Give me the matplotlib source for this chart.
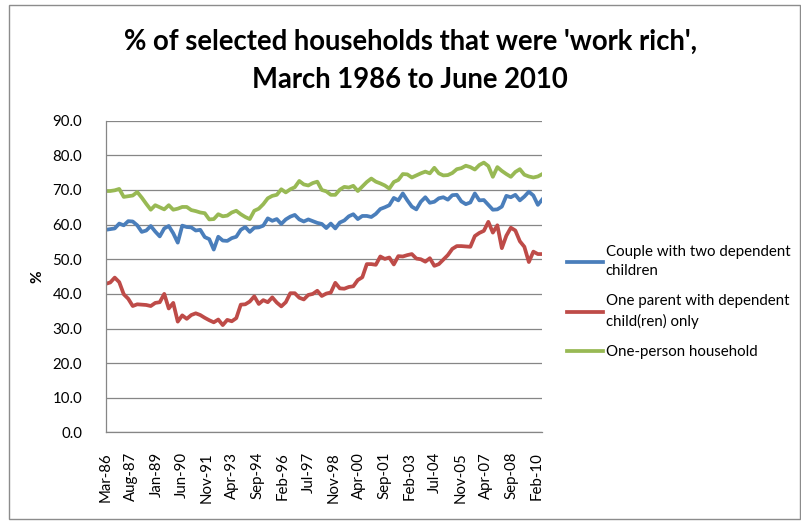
import matplotlib
matplotlib.use("Agg")
import matplotlib.pyplot as plt
from matplotlib.patches import Rectangle
import numpy as np
import pandas as pd

# quarterly readings, Mar-86 .. Jun-10 (% of households that were 'work rich')
couple_two_kids = [58.5, 58.7, 58.9, 60.3, 59.8, 61.0, 60.9, 59.8, 57.9, 58.3,
                   59.6, 58.0, 56.6, 58.9, 59.6, 57.5, 54.8, 59.7, 59.3, 59.2,
                   58.3, 58.5, 56.4, 55.8, 52.8, 56.5, 55.4, 55.3, 56.1, 56.5,
                   58.5, 59.3, 57.9, 59.1, 59.2, 59.7, 61.8, 61.1, 61.6, 60.2,
                   61.5, 62.3, 62.8, 61.5, 60.9, 61.5, 61.0, 60.5,
                   60.2, 59.0, 60.3, 58.9, 60.6, 61.2, 62.4, 63.0, 61.6, 62.5,
                   62.5, 62.2, 63.1, 64.5, 65.0, 65.6, 67.7, 67.0, 69.0, 67.0,
                   65.2, 64.4, 66.6, 67.9, 66.3, 66.6, 67.6, 67.9, 67.2, 68.5,
                   68.6, 66.7, 65.9, 66.4, 69.0, 67.0, 67.1, 65.7, 64.3, 64.4,
                   65.2, 68.3, 67.9, 68.6, 67.0, 68.1, 69.5, 68.4, 65.7, 67.3]

lone_parent = [42.9, 43.3, 44.7, 43.4, 39.9, 38.6, 36.5, 37.0, 36.9, 36.8,
               36.5, 37.4, 37.6, 40.0, 35.8, 37.4, 32.0, 33.8, 32.8, 33.9,
               34.4, 33.9, 33.1, 32.4, 31.8, 32.6, 31.0, 32.5, 32.1, 33.0,
               36.9, 37.0, 37.8, 39.3, 37.1, 38.2, 37.6, 39.0, 37.5, 36.4,
               37.6, 40.2, 40.2, 38.9, 38.4, 39.7, 40.0, 40.9,
               39.4, 40.1, 40.4, 43.2, 41.6, 41.5, 42.0, 42.2, 44.0, 44.8,
               48.6, 48.6, 48.4, 50.8, 50.1, 50.5, 48.5, 50.9, 50.8, 51.2,
               51.5, 50.2, 50.0, 49.3, 50.3, 48.1, 48.6, 49.9, 51.2, 53.0,
               53.8, 53.8, 53.7, 53.6, 56.7, 57.6, 58.2, 60.8, 57.7, 59.8,
               53.2, 56.8, 59.1, 58.3, 55.2, 53.6, 49.2, 52.2, 51.5, 51.5]

one_person = [69.7, 69.7, 69.9, 70.3, 68.0, 68.2, 68.4, 69.4, 67.8, 66.0,
              64.3, 65.6, 65.0, 64.4, 65.6, 64.3, 64.6, 65.1, 65.1, 64.2,
              63.9, 63.5, 63.3, 61.5, 61.6, 63.0, 62.4, 62.6, 63.5, 64.0,
              63.0, 62.2, 61.6, 64.0, 64.6, 65.9, 67.6, 68.3, 68.6, 70.2,
              69.3, 70.2, 70.8, 72.6, 71.6, 71.3, 72.0, 72.4,
              70.0, 69.6, 68.6, 68.6, 70.1, 70.9, 70.7, 71.2, 69.7, 71.0,
              72.3, 73.3, 72.4, 71.9, 71.3, 70.4, 72.3, 72.9, 74.6, 74.5,
              73.6, 74.2, 74.8, 75.3, 74.8, 76.4, 74.8, 74.2, 74.3, 74.9,
              76.0, 76.3, 77.0, 76.6, 75.9, 77.2, 77.9, 76.9, 73.8, 76.6,
              75.5, 74.6, 73.8, 75.2, 76.0, 74.4, 73.9, 73.6, 73.9, 74.6]

tick_labels = ["Mar-86", "Aug-87", "Jan-89", "Jun-90", "Nov-91", "Apr-93",
               "Sep-94", "Feb-96", "Jul-97", "Nov-98", "Apr-00", "Sep-01",
               "Feb-03", "Jul-04", "Nov-05", "Apr-07", "Sep-08", "Feb-10"]

series_names = ["Couple with two dependent\nchildren",
                "One parent with dependent\nchild(ren) only",
                "One-person household"]

quarters = pd.date_range("1986-03-01", periods=len(one_person), freq="3MS")
months = (quarters.year - 1986) * 12 + quarters.month - 3

font = "Lato"
plt.rcParams['font.family'] = [font, 'DejaVu Sans']

fig = plt.figure(figsize=(8.01, 5.22), dpi=100)
fig.patches.append(Rectangle((9 / 801, 3 / 522), 791 / 801, 514 / 522,
                             transform=fig.transFigure, fill=False,
                             edgecolor='#8c8c8c', linewidth=1))

ax = fig.add_axes([0.132, 0.1715, 0.5451, 0.5973])

ax.plot(months, couple_two_kids, color='#4A7EBB', lw=2.7, label=series_names[0])
ax.plot(months, lone_parent, color='#BE4B48', lw=2.7, label=series_names[1])
ax.plot(months, one_person, color='#98B954', lw=2.7, label=series_names[2])

ax.set_xlim(months[0], months[-1])
ax.set_ylim(0, 90)
ax.set_yticks(np.arange(0, 91, 10))
ax.set_yticklabels([f"{v:.1f}" for v in np.arange(0, 91, 10)])
ax.set_xticks(np.linspace(0, 287, len(tick_labels)))
ax.set_xticklabels(tick_labels, rotation=90, ha='center', va='top')
ax.tick_params(axis='y', length=0, pad=17, labelsize=10.8)
ax.tick_params(axis='x', length=0, pad=14, labelsize=10.8)

ax.grid(axis='y', color='#868686', lw=0.9)
ax.set_axisbelow(True)
for s in ['top', 'right']:
    ax.spines[s].set_visible(False)
for s in ['left', 'bottom']:
    ax.spines[s].set_color('#868686')
    ax.spines[s].set_linewidth(0.9)

ax.set_ylabel('%', fontweight='bold', fontsize=11, labelpad=6)

leg = ax.legend(loc='center left', bbox_to_anchor=(553 / 801, 1 - 302 / 522),
                bbox_transform=fig.transFigure, frameon=False, fontsize=10.8,
                handlelength=2.4, handletextpad=0.2, labelspacing=1.1)
for t in leg.get_texts():
    t.set_linespacing(1.45)

fig.text(410 / 801, 1 - 50 / 522, "% of selected households that were 'work rich',",
         ha='center', va='baseline', fontsize=19.8, fontweight='bold')
fig.text(410 / 801, 1 - 88 / 522, "March 1986 to June 2010",
         ha='center', va='baseline', fontsize=19.8, fontweight='bold')

fig.savefig("out.png", dpi=100)
